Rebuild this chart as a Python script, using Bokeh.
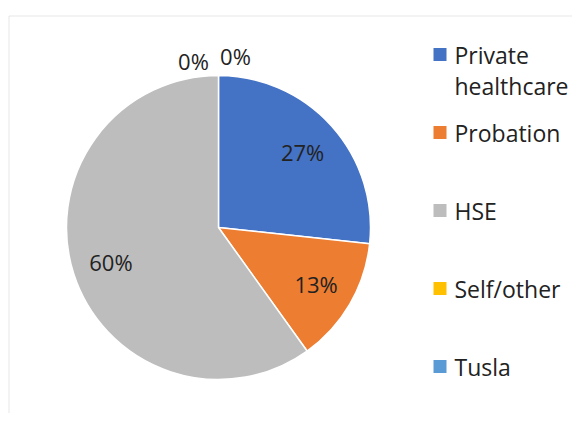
import math
from bokeh.plotting import figure
from bokeh.models import Range1d, BoxAnnotation, ColumnDataSource
from bokeh.core.properties import value
from bokeh.embed import file_html
from bokeh.resources import INLINE

# ---- data ----
categories = ["Private healthcare", "Probation", "HSE", "Self/other", "Tusla"]
legend_lines = [["Private", "healthcare"], ["Probation"], ["HSE"], ["Self/other"], ["Tusla"]]
shares = [26.7, 13.4, 59.9, 0.0, 0.0]
colors = ["#4472C4", "#ED7D31", "#BDBDBD", "#FFC000", "#5B9BD5"]

# ---- styling / layout ----
W, H = 572, 413
FONT = "Open Sans"
TEXT_COLOR = "#222222"
cx, cy, R = 218, 186, 152
label_r = 113
zero_r = 169
zero_nudge = {3: (-25, -2), 4: (17, 3)}

p = figure(width=W, height=H, x_range=Range1d(0, W), y_range=Range1d(0, H),
           output_backend="svg", toolbar_location=None, min_border=0)
p.axis.visible = False
p.grid.visible = False
p.outline_line_color = None
p.background_fill_color = "white"

# chart border (left and top edges visible)
p.add_layout(BoxAnnotation(left=8.5, right=W + 50, bottom=-50, top=H - 15.5,
                           fill_alpha=0, line_color="#B0B0B0", line_width=1))

total = sum(shares)
starts, ends, mids = [], [], []
acc = 0.0
for s in shares:
    a0 = acc / total
    acc += s
    a1 = acc / total
    starts.append(math.pi / 2 - a0 * 2 * math.pi)
    ends.append(math.pi / 2 - a1 * 2 * math.pi)
    mids.append(math.pi / 2 - (a0 + a1) / 2 * 2 * math.pi)

keep = [i for i, s in enumerate(shares) if s > 0]
src = ColumnDataSource(dict(start=[starts[i] for i in keep],
                            end=[ends[i] for i in keep],
                            color=[colors[i] for i in keep]))
p.wedge(x=cx, y=cy, radius=R, start_angle="start", end_angle="end",
        direction="clock", fill_color="color", line_color="white",
        line_width=1.5, source=src)

lx, ly, lt = [], [], []
for i, (s, m) in enumerate(zip(shares, mids)):
    if s > 0:
        x = cx + label_r * math.cos(m)
        y = cy + label_r * math.sin(m)
    else:
        dx, dy = zero_nudge.get(i, (0, 0))
        x = cx + zero_r * math.cos(m) + dx
        y = cy + zero_r * math.sin(m) + dy
    lx.append(x)
    ly.append(y)
    lt.append(f"{round(s / total * 100)}%")
p.text(x=lx, y=ly, text=lt, text_font=value(FONT), text_font_size="22px",
       text_align="center", text_baseline="middle", text_color=TEXT_COLOR)

# legend
leg_sq_x = 439.5
leg_txt_x = 454
leg_top = 359
leg_step = 78
line_h = 31
sq_y, tx, ty, tt = [], [], [], []
for i, lines in enumerate(legend_lines):
    y0 = leg_top - i * leg_step
    sq_y.append(y0)
    for j, ln in enumerate(lines):
        tx.append(leg_txt_x)
        ty.append(y0 - j * line_h)
        tt.append(ln)
p.scatter(x=[leg_sq_x] * len(categories), y=sq_y, marker="square", size=13,
          fill_color=colors, line_color=None)
p.text(x=tx, y=ty, text=tt, text_font=value(FONT), text_font_size="23px",
       text_align="left", text_baseline="middle", text_color=TEXT_COLOR)

open("out.html", "w").write(file_html(p, INLINE))
